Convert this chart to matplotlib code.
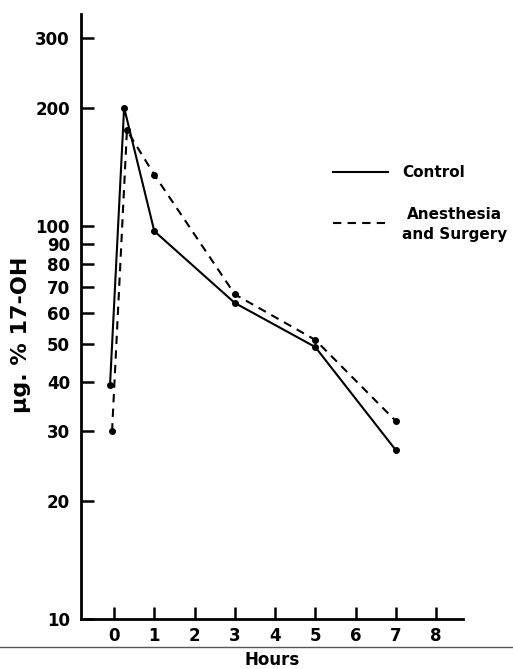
import numpy as np
import matplotlib.pyplot as plt
from matplotlib.lines import Line2D

# values
control_h = [-0.1, 0.25, 1, 3, 5, 7]
control_v = [39.4, 200, 97, 63.7, 49.2, 26.9]
surgery_h = [-0.05, 0.32, 1, 3, 5, 7]
surgery_v = [30, 175, 135, 67, 51.3, 31.9]

y_ticks = [10, 20, 30, 40, 50, 60, 70, 80, 90, 100, 200, 300]
x_ticks = [0, 1, 2, 3, 4, 5, 6, 7, 8]

fig = plt.figure(figsize=(5.13, 6.69), dpi=100)
ax = fig.add_axes([0.158, 0.0747, 0.7445, 0.9043])

ax.plot(control_h, control_v, color="black", lw=1.5, marker="o", ms=4)
ax.plot(surgery_h, surgery_v, color="black", lw=1.5, ls=(0, (4, 3)), marker="o", ms=4)

ax.set_yscale("log")
ax.set_ylim(10, 346)
ax.set_xlim(-0.82, 8.67)
ax.set_yticks(y_ticks)
ax.set_yticklabels([str(v) for v in y_ticks])
ax.yaxis.set_minor_locator(plt.NullLocator())
ax.set_xticks(x_ticks)

for s in ["top", "right"]:
    ax.spines[s].set_visible(False)
for s in ["left", "bottom"]:
    ax.spines[s].set_linewidth(2)

ax.tick_params(axis="both", direction="in", length=9, width=1.8,
               labelsize=12)
ax.tick_params(axis="y", pad=8)
ax.tick_params(axis="x", pad=6)
for lbl in ax.get_xticklabels() + ax.get_yticklabels():
    lbl.set_fontweight("bold")

ax.set_ylabel("\u00b5g. % 17-OH", fontsize=16, fontweight="bold")
ax.yaxis.set_label_coords(-0.131, 0.469)

# legend drawn by hand
ax.plot([5.45, 6.8], [137, 137], color="black", lw=1.5)
ax.text(7.15, 137, "Control", fontsize=11, fontweight="bold", va="center")
ax.plot([5.45, 6.8], [102, 102], color="black", lw=1.5, ls=(0, (4, 3)))
ax.text(7.15, 101, "Anesthesia\nand Surgery", fontsize=11, fontweight="bold",
        va="center", ha="left", linespacing=1.45, multialignment="center")

fig.add_artist(Line2D([0, 1], [(669 - 647) / 669] * 2, color="#555555", lw=1))
fig.text(272 / 513, (669 - 660) / 669, "Hours", fontsize=12, fontweight="bold",
         ha="center", va="center")

fig.savefig("out.png", dpi=100)
